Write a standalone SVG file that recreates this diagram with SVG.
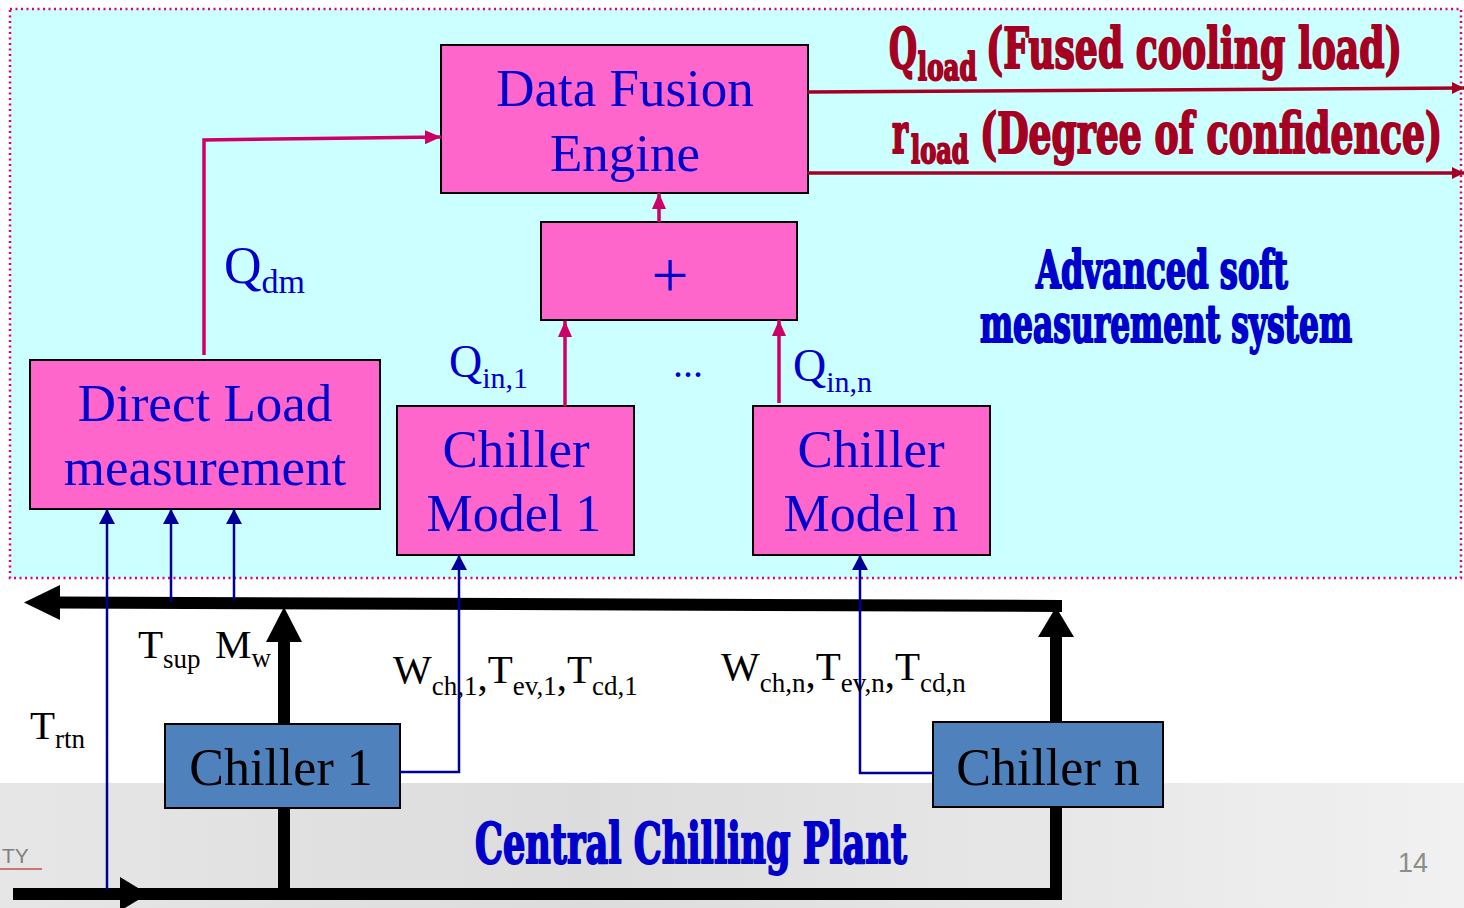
<svg xmlns="http://www.w3.org/2000/svg" width="1464" height="908" viewBox="0 0 1464 908">
<defs>
<linearGradient id="band" x1="0" y1="0" x2="1" y2="0">
<stop offset="0" stop-color="#e6e6e6"/>
<stop offset="0.4" stop-color="#dcdcdc"/>
<stop offset="1" stop-color="#f1f1f1"/>
</linearGradient>
<marker id="pinkArrow" markerUnits="userSpaceOnUse" markerWidth="16" markerHeight="16" refX="16" refY="8" orient="auto">
<path d="M0,1 L16,8 L0,15 z" fill="#cc0066"/>
</marker>
<marker id="blueArrow" markerUnits="userSpaceOnUse" markerWidth="16" markerHeight="18" refX="15" refY="9" orient="auto">
<path d="M0,1 L15,9 L0,17 z" fill="#000099"/>
</marker>
<marker id="redArrow" markerUnits="userSpaceOnUse" markerWidth="14" markerHeight="14" refX="12" refY="7" orient="auto">
<path d="M0,1 L12,7 L0,13 z" fill="#a50021"/>
</marker>
<style>
.box{fill:#ff66cc;stroke:#000;stroke-width:2}
.cbox{fill:#4f81bd;stroke:#000;stroke-width:2}
.bt{font-family:"Liberation Serif","Times New Roman",serif;font-size:53px;fill:#0000cc;text-anchor:middle}
.ct{font-family:"Liberation Serif","Times New Roman",serif;font-size:52px;fill:#000;text-anchor:middle}
.lbl{font-family:"Liberation Serif","Times New Roman",serif;fill:#0000cc}
.blk{font-family:"Liberation Serif","Times New Roman",serif;fill:#000;font-size:41px}
.hd{font-family:"DejaVu Serif Condensed","DejaVu Serif",serif;font-weight:bold;stroke-width:2;stroke-linejoin:round}
.hb{fill:#0000cc;stroke:#0000cc}
.hr{fill:#a50021;stroke:#a50021}
.pink{fill:none;stroke:#cc0066;stroke-width:3.5;marker-end:url(#pinkArrow)}
.sig{fill:none;stroke:#000099;stroke-width:2.5;marker-end:url(#blueArrow)}
.out{fill:none;stroke:#a50021;stroke-width:3.5;marker-end:url(#redArrow)}
.pipe{fill:none;stroke:#000;stroke-width:12}
</style>
</defs>
<rect x="0" y="0" width="1464" height="908" fill="#ffffff"/>
<rect x="0" y="783" width="1464" height="125" fill="url(#band)"/>
<g id="soft-system">
<rect x="10" y="9" width="1451" height="569" fill="#ccffff" stroke="#dd0077" stroke-width="2.5" stroke-dasharray="2 3.5"/>
<text class="hd hb" transform="translate(980,0) scale(0.6,1)" font-size="52"><tspan x="93.3" y="288" textLength="420" lengthAdjust="spacingAndGlyphs">Advanced soft</tspan><tspan x="0" y="342" textLength="620" lengthAdjust="spacingAndGlyphs">measurement system</tspan></text>
</g>
<g id="data-fusion-engine">
<rect class="box" x="441" y="45" width="367" height="148"/>
<text class="bt" x="625" y="106">Data Fusion</text>
<text class="bt" x="625" y="171">Engine</text>
</g>
<g id="sum">
<rect class="box" x="541" y="222" width="256" height="98"/>
<text class="bt" x="670" y="297" style="font-size:66px">+</text>
</g>
<g id="direct-load">
<rect class="box" x="30" y="360" width="350" height="149"/>
<text class="bt" x="205" y="421">Direct Load</text>
<text class="bt" x="205" y="485">measurement</text>
</g>
<g id="chiller-model-1">
<rect class="box" x="397" y="406" width="237" height="149"/>
<text class="bt" x="516" y="467">Chiller</text>
<text class="bt" x="514" y="531" style="font-size:52px">Model 1</text>
</g>
<g id="chiller-model-n">
<rect class="box" x="753" y="406" width="237" height="149"/>
<text class="bt" x="871" y="467">Chiller</text>
<text class="bt" x="871" y="531" style="font-size:52px">Model n</text>
</g>
<g id="chiller-1">
<rect class="cbox" x="165" y="724" width="235" height="84"/>
<text class="ct" x="281" y="785">Chiller 1</text>
</g>
<g id="chiller-n">
<rect class="cbox" x="933" y="722" width="230" height="85"/>
<text class="ct" x="1048" y="785">Chiller n</text>
</g>
<g id="connectors">
<path class="pink" d="M204,355 L204,140 L441,137"/>
<path class="pink" d="M659,222 L659,193"/>
<path class="pink" d="M565,406 L565,321"/>
<path class="pink" d="M779,403 L779,320"/>
<path class="out" d="M808,92 L1464,88"/>
<path class="out" d="M808,173 L1464,173"/>
<path class="pipe" d="M1062,606 L58,602.5"/>
<polygon points="24,602.5 60,585 60,620" fill="#000"/>
<path class="pipe" d="M284,640 L284,724"/>
<polygon points="284,607 266,642 302,642" fill="#000"/>
<path class="pipe" d="M1056,636 L1056,722"/>
<polygon points="1056,607 1038,637 1074,637" fill="#000"/>
<path class="pipe" d="M284,808 L284,894"/>
<path class="pipe" d="M1056,807 L1056,894"/>
<path class="pipe" d="M13,894 L1062,894"/>
<polygon points="148,894 120,877 120,911" fill="#000"/>
<path class="sig" d="M107,889 L107,509"/>
<path class="sig" d="M171,602 L171,509"/>
<path class="sig" d="M234,600 L234,509"/>
<path class="sig" d="M400,772 L459,772 L459,555"/>
<path class="sig" d="M933,773 L860,773 L860,555"/>
</g>
<g id="labels">
<text class="hd hr" transform="translate(889,68) scale(0.6,1)" y="0" font-size="56"><tspan x="0" textLength="46.7" lengthAdjust="spacingAndGlyphs">Q</tspan><tspan x="48" dy="12" font-size="38" textLength="98" lengthAdjust="spacingAndGlyphs">load</tspan><tspan x="161.7" dy="-12" textLength="693" lengthAdjust="spacingAndGlyphs">(Fused cooling load)</tspan></text>
<text class="hd hr" transform="translate(892,153) scale(0.6,1)" y="0" font-size="56"><tspan x="0" textLength="26.7" lengthAdjust="spacingAndGlyphs">r</tspan><tspan x="31.7" dy="10" font-size="38" textLength="96" lengthAdjust="spacingAndGlyphs">load</tspan><tspan x="146.7" dy="-10" textLength="770" lengthAdjust="spacingAndGlyphs">(Degree of confidence)</tspan></text>
<text class="lbl" x="224" y="283" font-size="52">Q<tspan font-size="34" dy="10">dm</tspan></text>
<text class="lbl" x="449" y="377" font-size="46">Q<tspan font-size="30" dy="11">in,1</tspan></text>
<text class="lbl" x="793" y="381" font-size="46">Q<tspan font-size="30" dy="11">in,n</tspan></text>
<text class="lbl" x="673" y="377" font-size="40">...</text>
<text class="blk" x="138" y="658">T<tspan font-size="27" dy="10">sup</tspan></text>
<text class="blk" x="215" y="658">M<tspan font-size="27" dy="9">w</tspan></text>
<text class="blk" x="30" y="739">T<tspan font-size="27" dy="9">rtn</tspan></text>
<text class="blk" x="393" y="683">W<tspan font-size="27" dy="12">ch,1</tspan><tspan dy="-5">,</tspan><tspan dy="-7">T</tspan><tspan font-size="27" dy="12">ev,1</tspan><tspan dy="-5">,</tspan><tspan dy="-7">T</tspan><tspan font-size="27" dy="12">cd,1</tspan></text>
<text class="blk" x="721" y="680">W<tspan font-size="27" dy="12">ch,n</tspan><tspan dy="-5">,</tspan><tspan dy="-7">T</tspan><tspan font-size="27" dy="12">ev,n</tspan><tspan dy="-5">,</tspan><tspan dy="-7">T</tspan><tspan font-size="27" dy="12">cd,n</tspan></text>
<text class="hd hb" transform="translate(475,863) scale(0.6,1)" x="0" y="0" font-size="56" textLength="720" lengthAdjust="spacingAndGlyphs">Central Chilling Plant</text>
</g>
<g id="footer">
<text x="2" y="863" font-family="Liberation Sans, Arial, sans-serif" font-size="21" fill="#7f7f7f">TY</text>
<line x1="0" y1="869" x2="42" y2="869" stroke="#c0504d" stroke-width="1.5"/>
<text x="1398" y="872" font-family="Liberation Sans, Arial, sans-serif" font-size="27" fill="#8c8c8c">14</text>
</g>
</svg>
